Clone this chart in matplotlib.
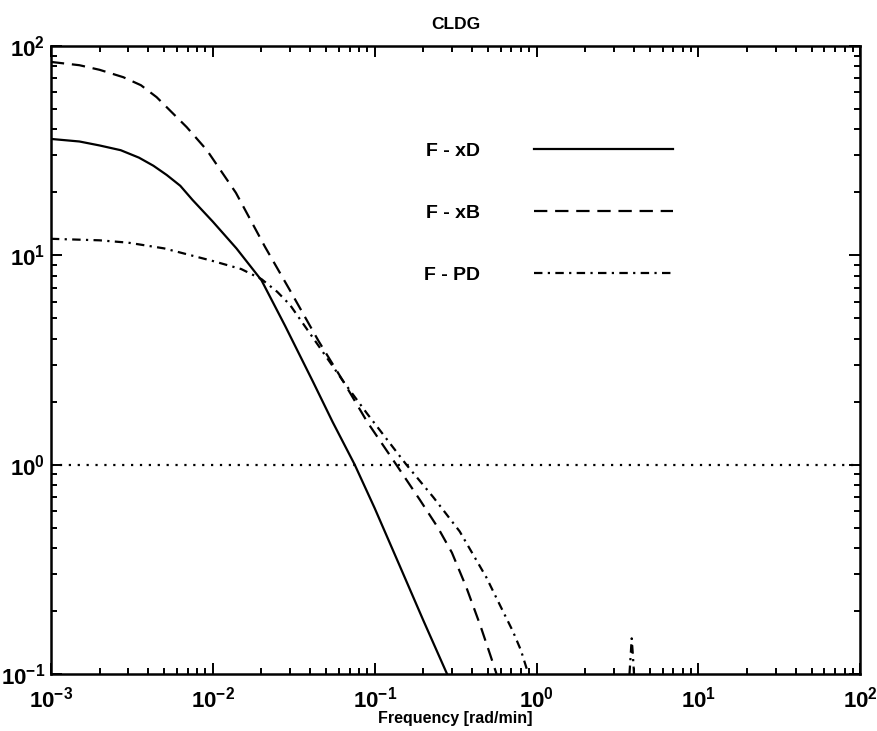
import numpy as np
import matplotlib
matplotlib.use("Agg")
import matplotlib.pyplot as plt

plt.rcParams['font.family'] = ['Liberation Sans', 'DejaVu Sans']
plt.rcParams['font.weight'] = 'bold'
plt.rcParams['mathtext.fontset'] = 'custom'
plt.rcParams['mathtext.rm'] = 'Liberation Sans:bold'
plt.rcParams['mathtext.it'] = 'Liberation Sans:italic:bold'
plt.rcParams['mathtext.bf'] = 'Liberation Sans:bold'

# closed-loop disturbance gain, read per curve (frequency in rad/min)
w_xd = [0.001, 0.0015, 0.002, 0.0027, 0.0035, 0.0043, 0.0052, 0.0063, 0.0075,
        0.01, 0.014, 0.02, 0.028, 0.0416, 0.055, 0.0753, 0.1, 0.1425,
        0.2, 0.28]
g_xd = [36, 35, 33.5, 31.8, 29.3, 26.8, 24.2, 21.5, 18.4,
        14.5, 10.8, 7.6, 4.6, 2.49, 1.6, 1.0, 0.62, 0.33,
        0.18, 0.1]

w_xb = [0.001, 0.0015, 0.002, 0.0028, 0.0036, 0.0045, 0.0069, 0.0092, 0.0139,
        0.021, 0.03, 0.045, 0.064, 0.09, 0.136, 0.19, 0.246, 0.3, 0.368,
        0.45, 0.52, 0.566]
g_xb = [84, 81, 77, 71, 65, 57, 41, 31.8, 19.9,
        11, 6.8, 3.9, 2.5, 1.6, 1.0, 0.68, 0.5, 0.38, 0.26,
        0.17, 0.122, 0.1]

w_pd = [0.001, 0.002, 0.003, 0.005, 0.007, 0.01, 0.015, 0.02, 0.025,
        0.03, 0.045, 0.064, 0.09, 0.157, 0.23, 0.335, 0.489, 0.6,
        0.714, 0.8, 0.89]
g_pd = [12, 11.8, 11.5, 10.8, 10.1, 9.4, 8.6, 7.7, 6.7,
        5.8, 3.7, 2.5, 1.75, 1.0, 0.7, 0.48, 0.29, 0.21,
        0.16, 0.13, 0.1]

# narrow peak of the F - PD curve near 4 rad/min
w_pk = [3.75, 3.82, 3.87, 3.93, 4.0]
g_pk = [0.1, 0.125, 0.148, 0.125, 0.1]

labels = ['F - xD', 'F - xB', 'F - PD']

fig = plt.figure(figsize=(8.77, 7.31), dpi=100)
ax = fig.add_axes([0.058, 0.078, 0.923, 0.859])

lw = 1.6
dashdot = (0, (3.8, 2.4, 1, 2.4))
ax.plot(w_xd, g_xd, color='black', lw=lw, ls='-', label=labels[0])
ax.plot(w_xb, g_xb, color='black', lw=lw, ls=(0, (6, 3.5)), label=labels[1])
ax.plot(w_pd, g_pd, color='black', lw=lw, ls=dashdot, label=labels[2])
ax.plot(w_pk, g_pk, color='black', lw=lw, ls=dashdot)
ax.axhline(1, color='black', lw=1.6, ls=(0, (1, 3)))

ax.set_xscale('log')
ax.set_yscale('log')
ax.set_xlim(1e-3, 1e2)
ax.set_ylim(1e-1, 1e2)

ax.tick_params(which='both', direction='in', top=True, right=True,
               labelsize=16, width=1.4)
ax.tick_params(axis='x', pad=9)
ax.tick_params(axis='y', pad=4)
ax.tick_params(which='major', length=8)
ax.tick_params(which='minor', length=4)
for s in ax.spines.values():
    s.set_linewidth(1.8)

ax.set_title('CLDG', fontsize=12.5, fontweight='bold', pad=12)
ax.set_xlabel('Frequency [rad/min]', fontsize=11.5, fontweight='bold', labelpad=-1)

leg = ax.legend(loc='upper left', bbox_to_anchor=(0.449, 0.862), frameon=False,
                markerfirst=False, handlelength=7.1, handletextpad=2.8,
                labelspacing=2.28, borderpad=0,
                prop={'size': 14, 'weight': 'bold'})

fig.savefig('out.png', dpi=100)
